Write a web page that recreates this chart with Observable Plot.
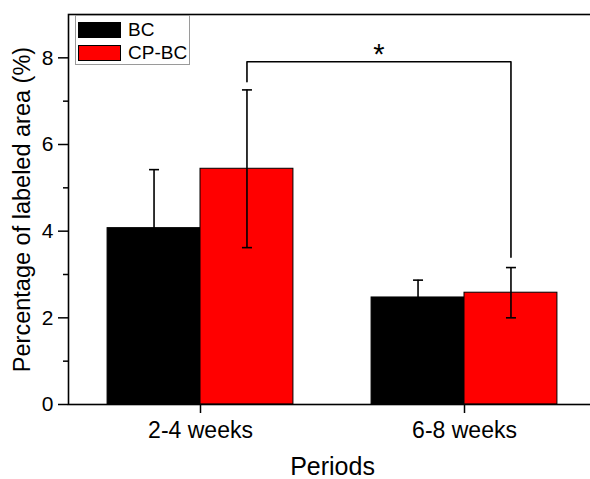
<!DOCTYPE html>
<html><head><meta charset="utf-8">
<script src="https://cdn.jsdelivr.net/npm/d3@7"></script>
<script src="https://cdn.jsdelivr.net/npm/@observablehq/plot@0.6"></script>
<style>
html,body{margin:0;padding:0;background:#fff;overflow:hidden;}
#wrap{position:relative;width:590px;height:479px;overflow:hidden;}
#chart svg{max-width:none !important;display:block;}
#legend{position:absolute;left:75px;top:15px;width:113px;height:48px;border:1px solid #9a9a9a;background:#fff;font-family:"Liberation Sans",Arial,sans-serif;font-size:19px;color:#000;}
.row{position:absolute;left:2px;height:17px;display:flex;align-items:center;white-space:nowrap;}
.sw{width:43px;height:16px;border:1px solid #000;box-sizing:border-box;margin-right:7px;}
</style></head>
<body>
<div id="wrap"><div id="chart"></div><div id="legend"></div></div>
<script>
const periods = ["2-4 weeks", "6-8 weeks"];
const series = ["BC", "CP-BC"];
const seriesColors = ["#000000", "#ff0000"];
const bcMean = [4.07, 2.47];
const bcSD = [1.35, 0.40];
const cpbcMean = [5.44, 2.58];
const cpbcSD = [1.82, 0.58];
const yTicks = [0, 2, 4, 6, 8];
const yMinorTicks = [1, 3, 5, 7];
const bracketTop = 7.91;
const bracketEnds = [7.45, 3.40];
const sigLabel = "*";
const xTitle = "Periods";
const yTitle = "Percentage of labeled area (%)";

const barW = 0.352; // fraction of group step
const rows = periods.flatMap((p, i) => [
  {period: p, i, series: "BC", mean: bcMean[i], sd: bcSD[i]},
  {period: p, i, series: "CP-BC", mean: cpbcMean[i], sd: cpbcSD[i]}
]);
const x1 = d => d.series === "BC" ? d.i - barW : d.i;
const x2 = d => d.series === "BC" ? d.i : d.i + barW;
const xc = d => (x1(d) + x2(d)) / 2;

const cp = rows.filter(d => d.series === "CP-BC");
const bracket = [
  {x: xc(cp[0]), y: bracketEnds[0]},
  {x: xc(cp[0]), y: bracketTop},
  {x: xc(cp[1]), y: bracketTop},
  {x: xc(cp[1]), y: bracketEnds[1]}
];

const capSymbol = {draw(ctx) { ctx.moveTo(-5, 0); ctx.lineTo(5, 0); }};

const chart = Plot.plot({
  width: 598, height: 479,
  marginLeft: 68, marginRight: 2, marginTop: 14, marginBottom: 75,
  style: {fontFamily: "'Liberation Sans', Arial, sans-serif", color: "#000", background: "#fff", maxWidth: "none"},
  x: {domain: [-0.5, 1.5]},
  y: {domain: [0, 9]},
  color: {domain: series, range: seriesColors},
  marks: [
    Plot.rectY(rows, {x1, x2, y: "mean", fill: "series", stroke: "#000", strokeWidth: 1}),
    Plot.ruleX(rows, {x: xc, y1: d => d.mean - d.sd, y2: d => d.mean + d.sd, stroke: "#000", strokeWidth: 1.6}),
    Plot.dot(rows, {x: xc, y: d => d.mean + d.sd, symbol: capSymbol, stroke: "#000", strokeWidth: 1.6, r: 5}),
    Plot.dot(rows.filter(d => d.series === "CP-BC"), {x: xc, y: d => d.mean - d.sd, symbol: capSymbol, stroke: "#000", strokeWidth: 1.6, r: 5}),
    Plot.line(bracket, {x: "x", y: "y", stroke: "#000", strokeWidth: 1.6, curve: "linear"}),
    Plot.text([sigLabel], {x: (bracket[1].x + bracket[2].x) / 2, y: bracketTop, lineAnchor: "bottom", dy: 2, fontSize: 29, fill: "#000"}),
    Plot.axisY({ticks: yTicks, tickSize: 10, tickPadding: 5, fontSize: 21, label: null, strokeWidth: 1.5}),
    Plot.axisY({ticks: yMinorTicks, tickSize: 5, tickFormat: () => "", label: null, strokeWidth: 1.5}),
    Plot.axisX({ticks: [0, 1], tickFormat: i => periods[i], tickSize: 9, tickPadding: 8, fontSize: 23, label: null, strokeWidth: 1.5}),
    Plot.text([xTitle], {frameAnchor: "bottom", dy: 70, fontSize: 25, fill: "#000"}),
    Plot.text([yTitle], {frameAnchor: "left", dx: -46, rotate: -90, textAnchor: "middle", fontSize: 23.5, fill: "#000"}),
    Plot.frame({stroke: "#000", strokeWidth: 1.6})
  ]
});
chart.style.maxWidth = "none";
document.getElementById("chart").appendChild(chart);

const legend = document.getElementById("legend");
series.forEach((s, k) => {
  const row = document.createElement("div");
  row.className = "row";
  row.style.top = (5 + k * 23) + "px";
  const sw = document.createElement("div");
  sw.className = "sw";
  sw.style.background = seriesColors[k];
  const t = document.createElement("span");
  t.textContent = s;
  row.appendChild(sw); row.appendChild(t);
  legend.appendChild(row);
});
</script>
</body></html>
